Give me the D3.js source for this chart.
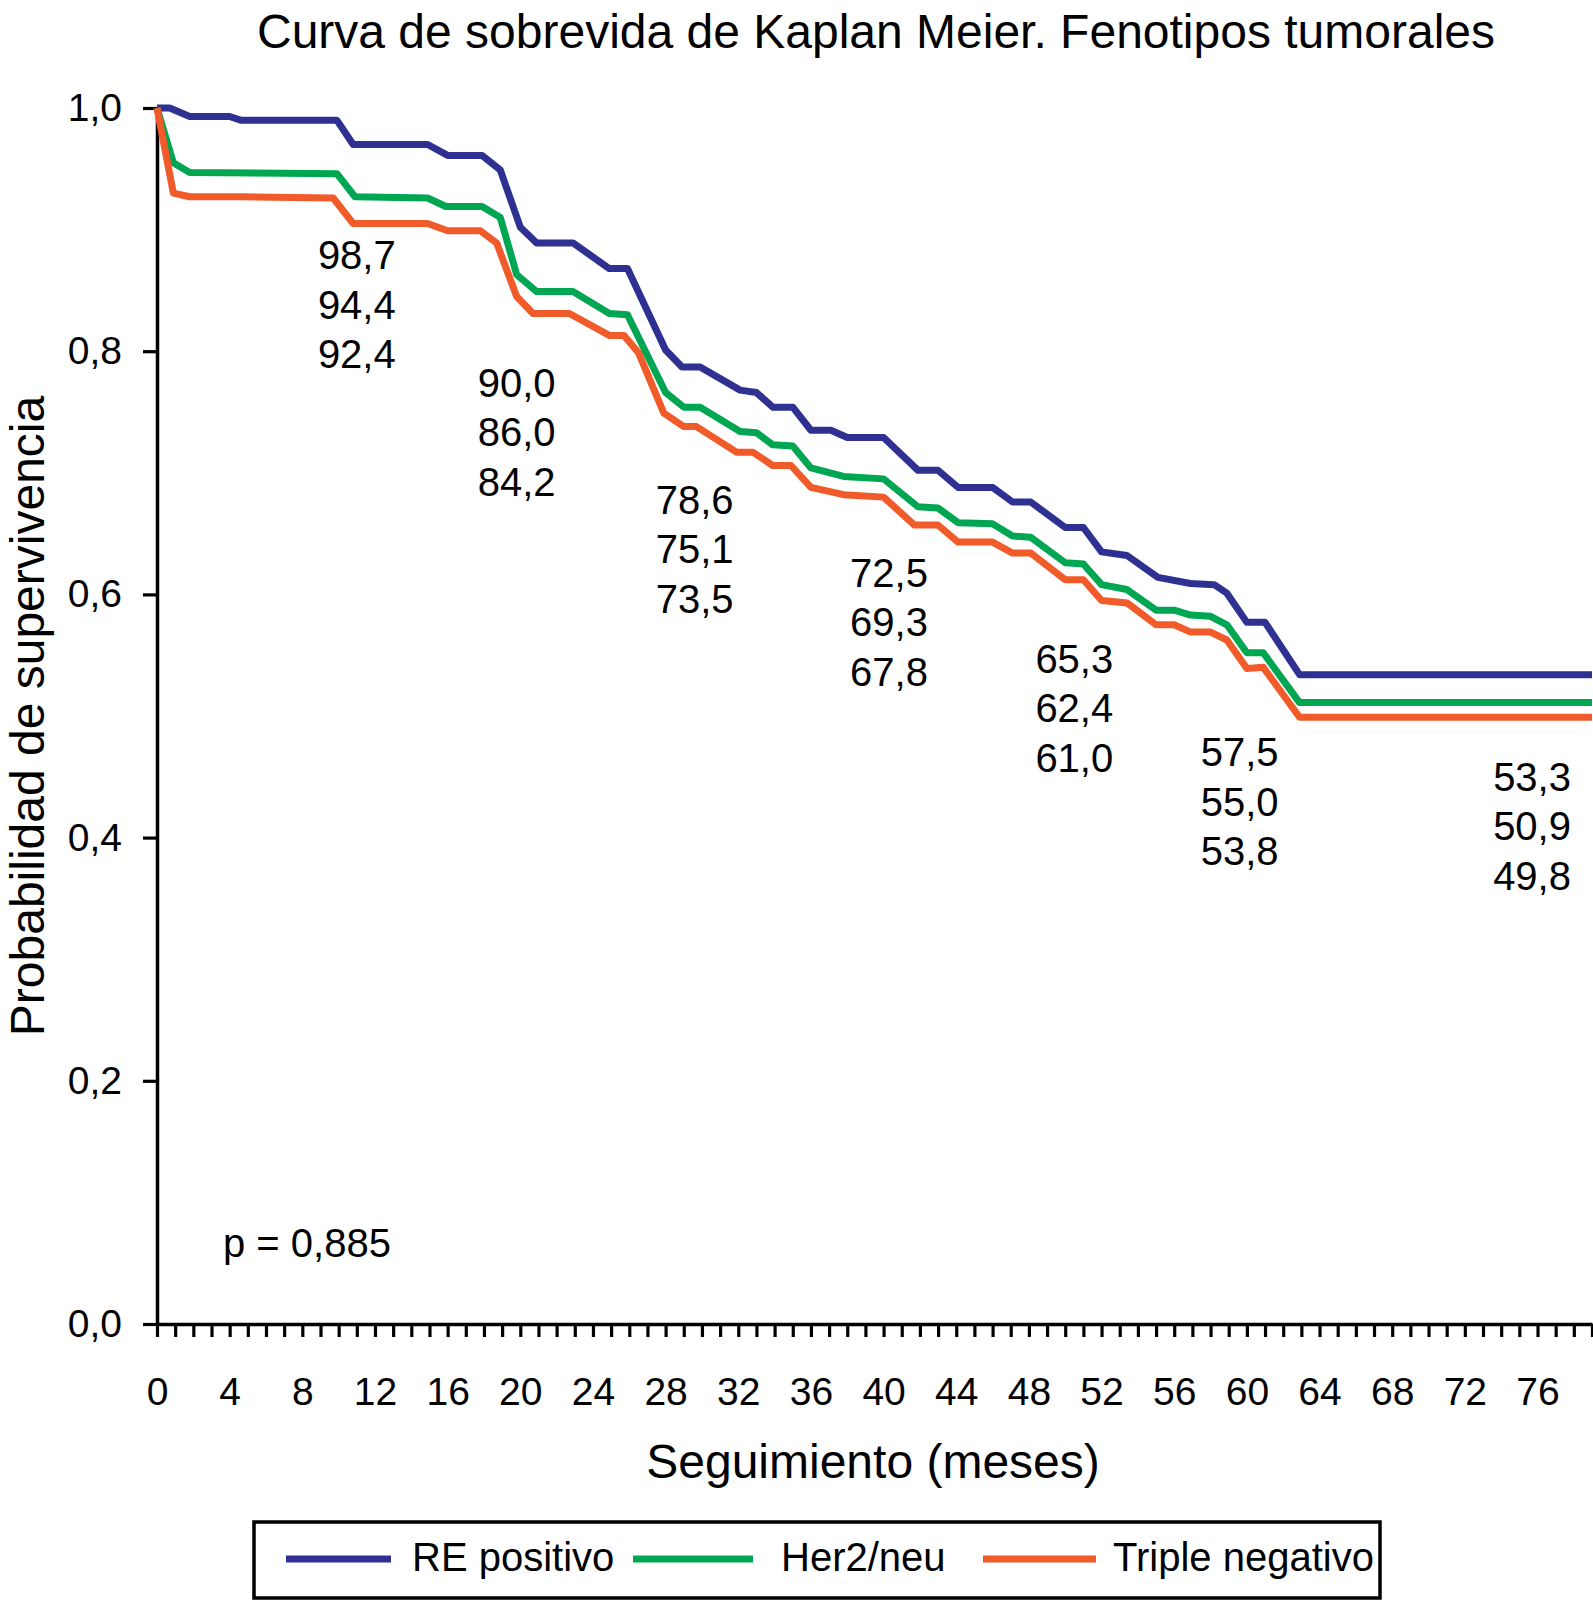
<!DOCTYPE html>
<html>
<head>
<meta charset="utf-8">
<script src="https://cdn.jsdelivr.net/npm/d3@7"></script>
<style>
body { margin: 0; background: #fff; }
svg { display: block; font-family: "Liberation Sans", Arial, Helvetica, sans-serif; }
</style>
</head>
<body>
<svg id="km" width="1593" height="1601"></svg>
<script>
var width = 1593;
var height = 1601;

var seriesNames = ['RE positivo', 'Her2/neu', 'Triple negativo'];
var seriesColors = ['#2e3192', '#00a651', '#f15a29'];

// Kaplan Meier curves (months, survival)
var reMonths = [0, 0.7, 1.8, 4.0, 4.6, 9.9, 10.8, 14.9, 16.0, 17.9, 18.9, 20.0, 20.9, 22.9, 24.9, 25.9,
    28.0, 28.9, 29.9, 32.1, 33.0, 33.9, 35.0, 36.0, 37.1, 38.0, 40.0, 41.9, 43.0, 44.1, 46.0,
    47.1, 48.1, 50.0, 51.0, 52.0, 53.4, 55.1, 56.9, 58.2, 58.9, 60.0, 61.0, 62.9, 79];
var reSurvival = [1.0, 1.0, 0.993, 0.993, 0.990, 0.990, 0.970, 0.970, 0.961, 0.961, 0.949, 0.902, 0.889, 0.889, 0.868, 0.868,
    0.801, 0.787, 0.787, 0.768, 0.766, 0.754, 0.754, 0.735, 0.735, 0.729, 0.729, 0.702, 0.702, 0.688, 0.688,
    0.676, 0.676, 0.655, 0.655, 0.635, 0.632, 0.614, 0.609, 0.608, 0.601, 0.577, 0.577, 0.534, 0.534];

var her2Months = [0, 0.9, 1.8, 9.9, 10.9, 14.9, 15.9, 17.9, 18.9, 19.8, 20.9, 22.9, 24.9, 25.9,
    28.0, 29.0, 29.9, 32.1, 33.0, 33.9, 35.0, 36.0, 37.8, 40.0, 41.9, 43.0, 44.1, 46.0,
    47.1, 48.1, 50.0, 51.0, 52.0, 53.4, 55.0, 56.0, 56.9, 58.0, 58.9, 60.0, 60.9, 62.9, 79];
var her2Survival = [1.0, 0.955, 0.947, 0.946, 0.927, 0.926, 0.919, 0.919, 0.910, 0.863, 0.849, 0.849, 0.831, 0.830,
    0.766, 0.754, 0.754, 0.734, 0.733, 0.723, 0.722, 0.704, 0.697, 0.695, 0.672, 0.671, 0.659, 0.658,
    0.648, 0.647, 0.626, 0.625, 0.608, 0.604, 0.587, 0.587, 0.583, 0.582, 0.575, 0.552, 0.552, 0.511, 0.511];

var tripleMonths = [0, 0.9, 1.8, 4.6, 9.7, 10.8, 14.9, 16.0, 17.8, 18.7, 19.8, 20.7, 22.7, 24.9, 25.7, 26.5,
    27.9, 29.0, 29.7, 31.9, 32.8, 33.9, 34.9, 36.0, 37.8, 40.0, 41.7, 43.0, 44.1, 46.0,
    47.1, 48.1, 50.0, 51.0, 52.0, 53.4, 55.0, 56.0, 56.9, 58.0, 58.9, 60.0, 60.9, 62.9, 79];
var tripleSurvival = [1.0, 0.930, 0.927, 0.927, 0.926, 0.905, 0.905, 0.899, 0.899, 0.889, 0.845, 0.831, 0.831, 0.813, 0.813, 0.799,
    0.749, 0.738, 0.738, 0.717, 0.717, 0.706, 0.706, 0.688, 0.682, 0.680, 0.657, 0.657, 0.643, 0.643,
    0.634, 0.634, 0.612, 0.612, 0.595, 0.593, 0.575, 0.575, 0.569, 0.569, 0.5625, 0.539, 0.540, 0.499, 0.499];

// survival (%) written on the chart, one group per time point
var labelMonths = [11.0, 19.8, 29.6, 40.3, 50.5, 59.6, 75.7];
var labelLevels = [0.879, 0.774, 0.678, 0.618, 0.547, 0.470, 0.450];
var labelRE = ['98,7', '90,0', '78,6', '72,5', '65,3', '57,5', '53,3'];
var labelHer2 = ['94,4', '86,0', '75,1', '69,3', '62,4', '55,0', '50,9'];
var labelTriple = ['92,4', '84,2', '73,5', '67,8', '61,0', '53,8', '49,8'];

var xTicks = d3.range(0, 80);
var yTicks = [0, 0.2, 0.4, 0.6, 0.8, 1.0];
var pText = 'p = 0,885';

var titleText = 'Curva de sobrevida de Kaplan Meier. Fenotipos tumorales';
var xTitle = 'Seguimiento (meses)';
var yTitle = 'Probabilidad de supervivencia';

var esLocale = d3.formatLocale({decimal: ',', thousands: '.', grouping: [3], currency: ['', ' €']});

var svg = d3.select('#km');

var x = d3.scaleLinear().domain([0, 79]).range([157, 1592]);
var y = d3.scaleLinear().domain([0, 1]).range([1324, 108]);

function styleAxis(g) {
    g.select('.domain').attr('stroke', '#000').attr('stroke-width', 3.5);
    g.selectAll('.tick line').attr('stroke', '#000').attr('stroke-width', 3.2);
    g.selectAll('.tick text')
        .attr('fill', '#000')
        .style('font-size', '39px');
    g.attr('font-family', null).attr('font-size', null);
}

function drawAxes() {
    var xAxis = d3.axisBottom(x)
        .tickValues(xTicks)
        .tickSize(13)
        .tickSizeOuter(0)
        .tickPadding(40)
        .tickFormat(function(d) { return d % 4 == 0 ? d : ''; });

    var yAxis = d3.axisLeft(y)
        .tickValues(yTicks)
        .tickSize(14)
        .tickSizeOuter(0)
        .tickPadding(21)
        .tickFormat(esLocale.format('.1f'));

    svg.append('g')
        .attr('transform', 'translate(0,' + y(0) + ')')
        .call(xAxis)
        .call(styleAxis);

    svg.append('g')
        .attr('transform', 'translate(' + x(0) + ',0)')
        .call(yAxis)
        .call(styleAxis);
}

function drawCurves() {
    var curves = [
        d3.zip(reMonths, reSurvival),
        d3.zip(her2Months, her2Survival),
        d3.zip(tripleMonths, tripleSurvival)
    ];

    var line = d3.line()
        .x(function(d) { return x(d[0]); })
        .y(function(d) { return y(d[1]); });

    svg.append('g')
        .selectAll('path')
        .data(curves)
        .join('path')
        .attr('d', line)
        .attr('fill', 'none')
        .attr('stroke', function(d, i) { return seriesColors[i]; })
        .attr('stroke-width', 7)
        .attr('stroke-linejoin', 'round');
}

function drawLabels() {
    var lineGap = 49.5;
    var groups = svg.append('g')
        .selectAll('text')
        .data(labelMonths)
        .join('text')
        .attr('text-anchor', 'middle')
        .attr('fill', '#000')
        .style('font-size', '40px')
        .attr('x', function(d) { return x(d); })
        .attr('y', function(d, i) { return y(labelLevels[i]) + 14; });

    groups.each(function(d, i) {
        var t = d3.select(this);
        var values = [labelRE[i], labelHer2[i], labelTriple[i]];
        values.forEach(function(v, j) {
            t.append('tspan')
                .attr('x', x(d))
                .attr('dy', j == 0 ? 0 : lineGap)
                .text(v);
        });
    });

    svg.append('text')
        .attr('x', 223)
        .attr('y', 1257)
        .style('font-size', '40px')
        .text(pText);
}

function drawTitles() {
    svg.append('text')
        .attr('x', 876)
        .attr('y', 48)
        .attr('text-anchor', 'middle')
        .style('font-size', '48px')
        .text(titleText);

    svg.append('text')
        .attr('x', 873)
        .attr('y', 1478)
        .attr('text-anchor', 'middle')
        .style('font-size', '48px')
        .text(xTitle);

    svg.append('text')
        .attr('transform', 'translate(44,716) rotate(-90)')
        .attr('text-anchor', 'middle')
        .style('font-size', '48px')
        .text(yTitle);
}

function drawLegend() {
    var legend = svg.append('g');
    legend.append('rect')
        .attr('x', 254)
        .attr('y', 1522)
        .attr('width', 1126)
        .attr('height', 76)
        .attr('fill', 'none')
        .attr('stroke', '#000')
        .attr('stroke-width', 3.5);

    // line start, line end, text start for each entry
    var slots = [[286, 391, 412], [633, 753, 781], [983, 1096, 1113]];

    var item = legend.selectAll('g.item')
        .data(seriesNames)
        .join('g')
        .attr('class', 'item');

    item.append('line')
        .attr('x1', function(d, i) { return slots[i][0]; })
        .attr('x2', function(d, i) { return slots[i][1]; })
        .attr('y1', 1559)
        .attr('y2', 1559)
        .attr('stroke', function(d, i) { return seriesColors[i]; })
        .attr('stroke-width', 7);

    item.append('text')
        .attr('x', function(d, i) { return slots[i][2]; })
        .attr('y', 1571)
        .style('font-size', '40px')
        .text(function(d) { return d; });
}

drawAxes();
drawCurves();
drawLabels();
drawTitles();
drawLegend();
</script>
</body>
</html>
